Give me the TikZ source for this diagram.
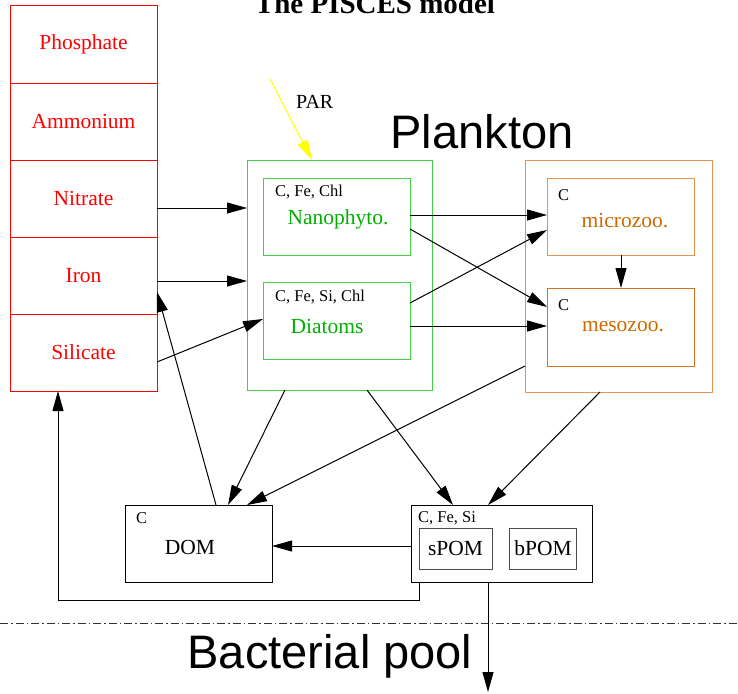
\documentclass[tikz,border=0pt]{standalone}
\usepackage{fontspec}
\setmainfont{Liberation Serif}
\newfontfamily\plainsans{Liberation Sans}
\usetikzlibrary{arrows.meta}
\definecolor{nutred}{RGB}{255,0,0}
\definecolor{phytext}{RGB}{0,175,0}
\definecolor{phybox}{RGB}{70,205,70}
\definecolor{zootext}{RGB}{205,105,0}
\definecolor{zoobox}{RGB}{228,150,80}
\definecolor{zooinner}{RGB}{210,115,30}
\definecolor{parcol}{RGB}{255,255,0}
\tikzset{
  arr/.style={-{Triangle[length=20pt,width=11pt]}, line width=1pt, black},
  cell/.style={draw=nutred, line width=1pt, minimum width=147pt, minimum height=77pt, inner sep=0pt, outer sep=0pt, anchor=north west, text=nutred, font=\fontsize{21.5}{24}\selectfont},
  bx/.style={line width=1pt, inner sep=0pt, outer sep=0pt, anchor=north west},
  small/.style={font=\fontsize{16.5}{18}\selectfont, anchor=west, inner sep=0pt},
  big/.style={font=\fontsize{21.5}{24}\selectfont, inner sep=0pt},
  huge/.style={font=\plainsans\fontsize{47}{56}\selectfont, inner sep=0pt, anchor=base},
}
\begin{document}
\begin{tikzpicture}[x=1pt,y=-1pt]
\useasboundingbox (0,0) rectangle (738,693);
% title (cut off at top, as in the reference)
\node[font=\bfseries\fontsize{29}{32}\selectfont, inner sep=0pt, anchor=base] (title) at (375,14) {The PISCES model};
% nutrients
\node[cell] (phos) at (10,6) {Phosphate};
\node[cell] (ammo) at (10,83) {Ammonium};
\node[cell] (nitr) at (10,160) {Nitrate};
\node[cell] (iron) at (10,237) {Iron};
\node[cell] (sili) at (10,314) {Silicate};
% phytoplankton
\node[bx, draw=phybox, minimum width=185pt, minimum height=230pt] (phyto) at (247,160) {};
\node[bx, draw=phybox, minimum width=147pt, minimum height=77pt] (nano) at (263,178) {};
\node[bx, draw=phybox, minimum width=147pt, minimum height=77pt] (diat) at (263,282) {};
\node[small] (nanoel) at (275,192) {C, Fe, Chl};
\node[big, text=phytext] (nanot) at (338,219) {Nanophyto.};
\node[small] (diatel) at (275,297) {C, Fe, Si, Chl};
\node[big, text=phytext] (diatt) at (327,326) {Diatoms};
% zooplankton
\node[bx, draw=zoobox, minimum width=187pt, minimum height=232pt] (zoo) at (525,160) {};
\node[bx, draw=zoobox, minimum width=147pt, minimum height=77pt] (micro) at (547,178) {};
\node[bx, draw=zooinner, minimum width=147pt, minimum height=78pt] (meso) at (547,288) {};
\node[small] (microel) at (558,195) {C};
\node[big, text=zootext] (microt) at (625,221) {microzoo.};
\node[small] (mesoel) at (558,305) {C};
\node[big, text=zootext] (mesot) at (623,327) {mesozoo.};
% PAR
\node[big, font=\fontsize{20}{24}\selectfont, anchor=base west] (par) at (296,108) {PAR};
\coordinate (parstart) at (270,79);
\draw[arr, parcol] (parstart) -- (phyto.north -| 312,0);
% Plankton label
\node[huge] (plank) at (482,148) {Plankton};
% DOM and POM
\node[bx, draw, minimum width=147pt, minimum height=77pt] (dom) at (125,505) {};
\node[small] (domel) at (136,518) {C};
\node[big] (domt) at (190,547) {DOM};
\node[bx, draw, minimum width=181pt, minimum height=77pt] (pom) at (411,505) {};
\node[small] (pomel) at (418,518) {C, Fe, Si};
\node[bx, draw=black!70, minimum width=73pt, minimum height=41pt] (spom) at (419,528) {};
\node[big] (spomt) at (455.5,548) {sPOM};
\node[bx, draw=black!70, minimum width=67pt, minimum height=41pt] (bpom) at (509.5,528) {};
\node[big] (bpomt) at (543,548) {bPOM};
% separator and bacterial pool
\coordinate (sepl) at (0,623);
\coordinate (sepr) at (738,623);
\draw[line width=0.8pt, dash pattern=on 8pt off 3pt on 1.5pt off 3pt, black!80] (sepl) -- (sepr);
\node[huge] (bact) at (330,668) {Bacterial pool};
% nutrient uptake
\draw[arr] (nitr.east |- 0,208) -- (phyto.west |- 0,208);
\draw[arr] (iron.east |- 0,281) -- (phyto.west |- 0,281);
\draw[arr] (sili.east |- 0,362) -- (diat.west |- 0,319);
% grazing
\draw[arr] (nano.east |- 0,215) -- (micro.west |- 0,215);
\draw[arr] (nano.east |- 0,229) -- (meso.west |- 0,307);
\draw[arr] (diat.east |- 0,303) -- (micro.west |- 0,230);
\draw[arr] (diat.east |- 0,326) -- (meso.west |- 0,326);
\draw[arr] (micro.south -| 621,0) -- (meso.north -| 621,0);
% to DOM / POM
\draw[arr] (phyto.south -| 285,0) -- (dom.north -| 228,0);
\draw[arr] (zoo.west |- 0,366) -- (dom.north -| 247,0);
\draw[arr] (phyto.south -| 367,0) -- (pom.north -| 453,0);
\draw[arr] (zoo.south -| 600,0) -- (pom.north -| 488,0);
\draw[arr] (pom.west |- 0,546) -- (dom.east |- 0,546);
% remineralisation
\draw[arr] (dom.north -| 216,0) -- (iron.east |- 0,292);
\draw[arr] (pom.south -| 419,0) -- (419,600) -- (58,600) -- (sili.south -| 58,0);
\coordinate (sink) at (488,692);
\draw[arr] (pom.south -| 488,0) -- (sink);
\end{tikzpicture}
\end{document}
